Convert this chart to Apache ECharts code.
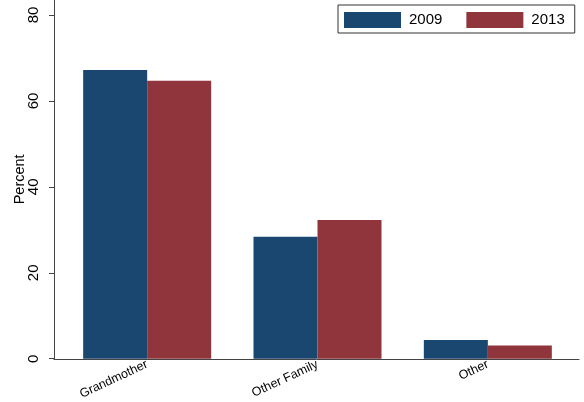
<!DOCTYPE html>
<html>
<head>
<meta charset="utf-8">
<script src="https://cdn.jsdelivr.net/npm/echarts@6/dist/echarts.min.js"></script>
<style>
html,body{margin:0;padding:0;background:#fff;}
#c{width:584px;height:402px;}
</style>
</head>
<body>
<div id="c"></div>
<script>
const categories = ['Grandmother', 'Other Family', 'Other'];
const seriesNames = ['2009', '2013'];
const values2009 = [67.2, 28.4, 4.35];
const values2013 = [64.7, 32.3, 3.1];
const yTicks = [0, 20, 40, 60, 80];

const chart = echarts.init(document.getElementById('c'), null, {renderer: 'canvas'});
const FONT = 'Liberation Sans, Arial, sans-serif';
chart.setOption({
  animation: false,
  backgroundColor: '#fff',
  textStyle: {fontFamily: FONT},
  legend: {
    data: seriesNames,
    left: 338, top: 5,
    orient: 'horizontal',
    itemWidth: 57, itemHeight: 16, itemGap: 24,
    padding: [7, 10, 5, 6],
    borderColor: '#333', borderWidth: 1,
    formatter: '{t|{name}}',
    textStyle: {fontSize: 15, color: '#000', fontFamily: FONT,
      rich: {t: {fontSize: 15, color: '#000', fontFamily: FONT, padding: [0, 0, 0, 3]}}},
    icon: 'rect'
  },
  grid: [
    {left: 62, right: 11, top: 0, bottom: 43},
    {left: 54, right: 5, top: 0, bottom: 43}
  ],
  xAxis: [
    {
      type: 'category', data: categories, gridIndex: 0,
      axisLine: {show: false}, axisTick: {show: false},
      axisLabel: {rotate: 25, fontSize: 12.5, color: '#000', margin: 5, fontFamily: FONT}
    },
    {
      type: 'value', gridIndex: 1, min: 0, max: 1,
      axisLine: {show: true, lineStyle: {color: '#444', width: 1}},
      axisTick: {show: false}, axisLabel: {show: false}, splitLine: {show: false}
    }
  ],
  yAxis: [
    {
      type: 'value', gridIndex: 0, min: 0, max: 83.49, interval: 20, offset: 8,
      name: 'Percent', nameLocation: 'middle', nameGap: 27, nameRotate: 90,
      nameMoveOverlap: false,
      nameTextStyle: {fontSize: 14.5, color: '#000', fontFamily: FONT},
      axisLine: {show: true, lineStyle: {color: '#444', width: 1}},
      axisTick: {show: true, length: 5, lineStyle: {color: '#444'}, customValues: yTicks},
      axisLabel: {rotate: 90, fontSize: 15, color: '#000', margin: 13, customValues: yTicks, fontFamily: FONT},
      splitLine: {show: false}
    },
    {
      type: 'value', gridIndex: 1, show: false
    }
  ],
  series: [
    {name: seriesNames[0], type: 'bar', xAxisIndex: 0, yAxisIndex: 0, data: values2009,
     barWidth: 64, barGap: '0%', itemStyle: {color: '#1a476f'}},
    {name: seriesNames[1], type: 'bar', xAxisIndex: 0, yAxisIndex: 0, data: values2013,
     barWidth: 64, barGap: '0%', itemStyle: {color: '#90353b'}}
  ]
});
</script>
</body>
</html>
